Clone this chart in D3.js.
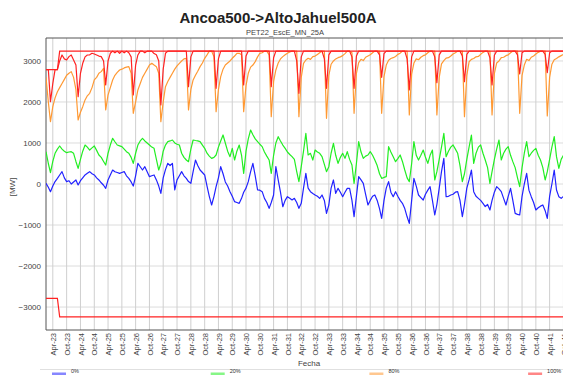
<!DOCTYPE html>
<html>
<head>
<meta charset="utf-8">
<script src="https://cdn.jsdelivr.net/npm/d3@7"></script>
<style>
  body { margin: 0; background: #fff; }
  text { font-family: "Liberation Sans", Arial, sans-serif; }
</style>
</head>
<body>
<svg id="chart" width="563" height="375"></svg>
<script>
(function() {
  'use strict';

  var title = 'Ancoa500->AltoJahuel500A';
  var subtitle = 'PET22_EscE_MN_25A';
  var xLabel = 'Fecha';
  var yLabel = '[MW]';
  var startYear = 2023;
  var yTicks = [-3000, -2000, -1000, 0, 1000, 2000, 3000];
  var legendLabels = ['0%', '20%', '80%', '100%'];

  // monthly values, Jan 2023 .. Dec 2041 (one row per year)
  var p0 = [
    16, -80, -187, -50, 60, 138, 220, 301, 150, 57, 80, 0,
    50, 98, -24, 80, 150, 220, 260, 301, 250, 220, 150, 98,
    30, -30, -106, 100, 220, 341, 300, 280, 260, 280, 301, 200,
    138, 50, -50, 200, 504, 420, 341, 423, 300, 179, 200, 220,
    100, -50, -228, 150, 350, 504, 450, 504, -146, 100, 200, 301,
    200, 138, 60, 16, 300, 585, 450, 341, 280, 220, -50, -300,
    -512, -300, -65, 150, 423, 250, 50, -50, -187, -300, -431, -450,
    -472, -350, -200, -100, 57, 300, 504, 200, -146, -150, -187, -350,
    -450, -594, -450, -268, 423, 100, -200, -553, -400, -309, -350, -390,
    -350, -450, -594, -472, -100, 260, -100, -187, -230, -268, -300, -350,
    -268, -400, -716, -512, -100, 98, -228, -106, -200, -309, -200, -106,
    -106, -400, -797, -300, 179, 100, 16, -250, -512, -400, -300, -268,
    -400, -600, -837, -400, -100, 57, -200, -309, -187, -300, -400, -472,
    -600, -800, -959, -400, 138, -50, -268, -330, -390, -250, -150, -65,
    -400, -756, -500, -100, 300, 626, -309, -300, -268, -250, -200, -187,
    -400, -797, -500, -100, 100, 341, -187, -300, -350, -400, -472, -550,
    -500, -634, -400, -200, -65, -120, -187, -350, -512, -300, -106, -400,
    -716, -740, -756, -300, 0, 260, -150, -309, -450, -634, -580, -540,
    -512, -650, -837, -300, 0, 341, -146, -309, -350, -300, -250, -300
  ];

  var p20 = [
    788, 500, 276, 550, 748, 850, 927, 850, 800, 764, 780, 788,
    748, 550, 382, 600, 800, 951, 900, 829, 880, 927, 820, 707,
    650, 550, 463, 750, 950, 1114, 1030, 951, 930, 911, 850, 788,
    750, 650, 504, 750, 950, 1050, 1114, 1050, 1000, 951, 900, 870,
    600, 341, 500, 800, 950, 1032, 1050, 1073, 1000, 970, 951, 750,
    650, 585, 545, 850, 1073, 1060, 1050, 1032, 950, 870, 750, 680,
    626, 650, 707, 900, 1050, 1195, 1000, 800, 667, 870, 585, 800,
    951, 700, 260, 800, 1100, 1317, 1200, 1100, 1032, 970, 911, 780,
    680, 585, 260, 700, 1000, 1154, 1050, 950, 870, 780, 720, 667,
    600, 300, 57, 423, 800, 1236, 707, 748, 585, 829, 780, 748,
    667, 480, 301, 423, 750, 992, 700, 504, 650, 748, 626, 788,
    600, 463, 16, 500, 1032, 780, 626, 680, 707, 788, 700, 585,
    450, 250, 138, 160, 179, 911, 780, 667, 545, 620, 707, 550,
    341, 150, 57, 500, 1032, 700, 585, 700, 829, 650, 504, 700,
    829, 98, 300, 600, 900, 1236, 667, 800, 900, 951, 850, 748,
    450, 57, 250, 600, 900, 1195, 504, 750, 900, 951, 750, 585,
    400, 16, 300, 600, 850, 1073, 585, 750, 850, 911, 700, 545,
    400, 150, -65, 400, 750, 1032, 667, 750, 820, 870, 700, 585,
    400, 98, 300, 600, 900, 1154, 667, 382, 600, 700, 650, 600
  ];

  var p80 = [
    2600, 2000, 1520, 1886, 2100, 2250, 2350, 2450, 2550, 2650, 2700, 2740,
    2600, 2300, 1561, 1750, 1886, 2050, 2150, 2211, 2350, 2537, 2600, 2700,
    2740, 2821, 1805, 2171, 2350, 2537, 2650, 2720, 2780, 2800, 2830, 2850,
    2862, 2699, 1724, 2000, 2293, 2450, 2600, 2699, 2800, 2900, 2943, 2900,
    2862, 2700, 1520, 2000, 2374, 2500, 2600, 2699, 2800, 2880, 2943, 3000,
    3050, 3065, 1805, 2300, 2537, 2650, 2750, 2862, 2950, 3065, 3150, 3240,
    3240, 3100, 1764, 2300, 2618, 2800, 2902, 2950, 3000, 3065, 3120, 3187,
    3187, 3150, 1764, 2400, 2699, 2850, 2900, 2984, 3100, 3187, 3200, 3240,
    3240, 3150, 1642, 2500, 2780, 2950, 3050, 3106, 3150, 3187, 3220, 3240,
    3240, 3240, 1642, 2600, 2943, 3024, 3065, 3040, 3106, 3120, 3160, 3200,
    3240, 3240, 1602, 2650, 2920, 3000, 3050, 3080, 3100, 3130, 3180, 3240,
    3240, 3200, 1724, 2700, 2960, 3040, 3010, 3090, 3120, 3150, 3200, 3240,
    3240, 3240, 1724, 2620, 2900, 3020, 3060, 3080, 3110, 3160, 3190, 3240,
    3240, 3240, 1683, 2680, 2950, 3050, 3030, 3090, 3130, 3150, 3200, 3240,
    3240, 3240, 1683, 2600, 2930, 3010, 3070, 3080, 3120, 3170, 3200, 3240,
    3240, 3240, 1642, 2650, 2980, 3040, 3060, 3100, 3110, 3160, 3210, 3240,
    3240, 3240, 1683, 2700, 2950, 3000, 3080, 3090, 3130, 3150, 3200, 3240,
    3240, 3240, 1724, 2650, 2900, 3040, 3010, 3090, 3120, 3170, 3210, 3240,
    3240, 3240, 1660, 2600, 2920, 3030, 3060, 3100, 3130, 3160, 3200, 3240
  ];

  var p100 = [
    2790, 2790, 2008, 2450, 2790, 2790, 3000, 3146, 3050, 3024, 3106, 3146,
    3024, 2900, 2130, 2700, 2943, 3100, 3146, 3150, 3187, 3170, 3146, 3120,
    3106, 3000, 2415, 3000, 3187, 3240, 3200, 3240, 3187, 3240, 3200, 3240,
    3200, 3100, 2171, 2900, 3146, 3240, 3240, 3200, 3240, 3240, 3240, 3180,
    3150, 3000, 1927, 2800, 3187, 3240, 3240, 3240, 3240, 3240, 3240, 3240,
    3240, 3240, 2374, 3100, 3240, 3240, 3240, 3240, 3240, 3240, 3240, 3240,
    3240, 3240, 2333, 3050, 3240, 3240, 3240, 3240, 3240, 3240, 3240, 3240,
    3240, 3240, 2415, 3120, 3240, 3240, 3240, 3240, 3240, 3240, 3240, 3240,
    3240, 3240, 2374, 3080, 3240, 3240, 3240, 3240, 3240, 3240, 3240, 3240,
    3240, 3000, 2211, 3100, 3240, 3240, 3240, 3240, 3240, 3240, 3240, 3240,
    3240, 3050, 2333, 3150, 3240, 3240, 3240, 3240, 3240, 3240, 3240, 3240,
    3240, 3100, 2333, 3120, 3240, 3240, 3240, 3240, 3240, 3240, 3240, 3240,
    3240, 3150, 2602, 3180, 3240, 3240, 3240, 3240, 3240, 3240, 3240, 3240,
    3240, 3050, 2293, 3100, 3240, 3240, 3240, 3240, 3240, 3240, 3240, 3240,
    3240, 3100, 2471, 3150, 3240, 3240, 3240, 3240, 3240, 3240, 3240, 3240,
    3240, 3120, 2495, 3160, 3240, 3240, 3240, 3240, 3240, 3240, 3240, 3240,
    3240, 3080, 2415, 3140, 3240, 3240, 3240, 3240, 3240, 3240, 3240, 3240,
    3240, 3150, 2683, 3200, 3240, 3240, 3240, 3240, 3240, 3240, 3240, 3240,
    3240, 3160, 2715, 3200, 3240, 3240, 3240, 3240, 3240, 3240, 3240, 3240
  ];

  // transfer limits, as step points (month index from Jan 2023)
  var limitMonths = [0, 5, 6, 227];
  var limitMax = [2790, 2790, 3240, 3240];
  var limitMin = [-2790, -2790, -3240, -3240];

  var colors = ['#2222ff', '#22ee22', '#ff9933', '#ff2222'];
  var series = [p0, p20, p80, p100];

  var svg = d3.select('#chart');
  var left = 46, top = 38, bottom = 330;
  var right = left + 19 * 27.6;

  var monthDate = function(i) {
    return new Date(startYear, i, 1);
  };

  var x = d3.scaleTime()
    .domain([new Date(startYear, 0, 1), new Date(startYear + 19, 0, 1)])
    .range([left, right]);

  var y = d3.scaleLinear()
    .domain([-3560, 3560])
    .range([bottom, top]);

  var xTicks = d3.timeMonths(new Date(startYear, 3, 1), new Date(startYear + 19, 0, 1), 6);

  svg.append('defs').append('clipPath').attr('id', 'plot-clip')
    .append('rect')
    .attr('x', left).attr('y', top)
    .attr('width', right - left).attr('height', bottom - top);

  // grid
  var grid = svg.append('g').attr('class', 'grid');
  grid.selectAll('line.h')
    .data(yTicks)
    .enter().append('line')
    .attr('class', 'h')
    .attr('x1', left).attr('x2', right)
    .attr('y1', function(d) { return y(d); })
    .attr('y2', function(d) { return y(d); })
    .attr('stroke', '#dcdcdc');
  grid.selectAll('line.v')
    .data(xTicks)
    .enter().append('line')
    .attr('class', 'v')
    .attr('x1', function(d) { return x(d); })
    .attr('x2', function(d) { return x(d); })
    .attr('y1', top).attr('y2', bottom)
    .attr('stroke', '#cfcfcf');

  // frame
  svg.append('path')
    .attr('d', 'M' + right + ',' + top + 'H' + left + 'V' + bottom + 'H' + right)
    .attr('fill', 'none')
    .attr('stroke', '#555')
    .attr('stroke-width', 1);

  var line = d3.line()
    .x(function(d, i) { return x(monthDate(i)); })
    .y(function(d) { return y(d); });

  var stepLine = d3.line()
    .x(function(d, i) { return x(monthDate(limitMonths[i])); })
    .y(function(d) { return y(d); });

  var plot = svg.append('g').attr('clip-path', 'url(#plot-clip)');

  plot.selectAll('path.series')
    .data(series)
    .enter().append('path')
    .attr('class', 'series')
    .attr('d', line)
    .attr('fill', 'none')
    .attr('stroke', function(d, i) { return colors[i]; })
    .attr('stroke-width', 1.2)
    .attr('stroke-linejoin', 'round');

  plot.selectAll('path.limit')
    .data([limitMax, limitMin])
    .enter().append('path')
    .attr('class', 'limit')
    .attr('d', stepLine)
    .attr('fill', 'none')
    .attr('stroke', colors[3])
    .attr('stroke-width', 1.2);

  // axes
  var yAxis = svg.append('g')
    .attr('transform', 'translate(' + left + ',0)')
    .call(d3.axisLeft(y).tickValues(yTicks).tickFormat(d3.format('d')).tickSize(0).tickPadding(5));
  yAxis.select('.domain').remove();
  yAxis.selectAll('text')
    .attr('font-size', 8)
    .attr('fill', '#444')
    .style('font-family', '"Liberation Sans", Arial, sans-serif');

  var xAxis = svg.append('g')
    .attr('transform', 'translate(0,' + bottom + ')')
    .call(d3.axisBottom(x).tickValues(xTicks).tickFormat(d3.timeFormat('%b-%y')).tickSize(0));
  xAxis.select('.domain').remove();
  xAxis.selectAll('text')
    .attr('font-size', 7.5)
    .attr('fill', '#444')
    .attr('text-anchor', 'end')
    .attr('transform', 'rotate(-90)')
    .attr('x', -3)
    .attr('y', 0)
    .attr('dy', '0.35em')
    .style('font-family', '"Liberation Sans", Arial, sans-serif');

  // titles
  svg.append('text')
    .attr('x', 278).attr('y', 23)
    .attr('text-anchor', 'middle')
    .attr('font-size', 15)
    .attr('font-weight', 'bold')
    .attr('fill', '#222')
    .text(title);
  svg.append('text')
    .attr('x', 285).attr('y', 34.5)
    .attr('text-anchor', 'middle')
    .attr('font-size', 7.5)
    .attr('fill', '#444')
    .text(subtitle);
  svg.append('text')
    .attr('x', 309).attr('y', 366)
    .attr('text-anchor', 'middle')
    .attr('font-size', 8)
    .attr('fill', '#444')
    .text(xLabel);
  svg.append('text')
    .attr('transform', 'translate(15,187) rotate(-90)')
    .attr('text-anchor', 'middle')
    .attr('font-size', 8)
    .attr('fill', '#444')
    .text(yLabel);

  // legend
  var legend = svg.append('g');
  legend.append('line')
    .attr('x1', 40).attr('x2', 563)
    .attr('y1', 369.5).attr('y2', 369.5)
    .attr('stroke', '#e0e0e0');
  var items = legend.selectAll('g.item')
    .data(legendLabels)
    .enter().append('g')
    .attr('class', 'item')
    .attr('transform', function(d, i) { return 'translate(' + (52 + i * 158.7) + ',0)'; });
  items.append('line')
    .attr('x1', 0).attr('x2', 14)
    .attr('y1', 374).attr('y2', 374)
    .attr('stroke', function(d, i) { return colors[i]; })
    .attr('stroke-opacity', 0.55)
    .attr('stroke-width', 3);
  items.append('text')
    .attr('x', 19).attr('y', 373)
    .attr('font-size', 5.5)
    .attr('fill', '#333')
    .text(function(d) { return d; });
}).call(this);
</script>
</body>
</html>
